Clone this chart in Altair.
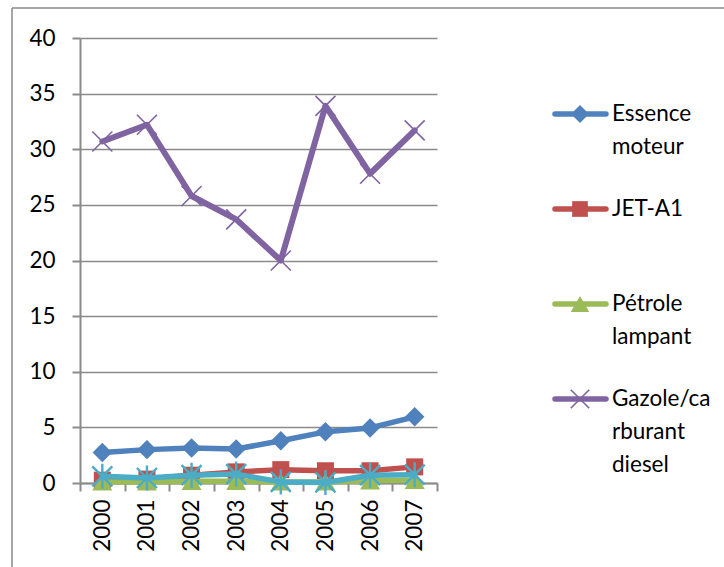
import altair as alt
import pandas as pd

# Annual values per fuel product
years = ["2000", "2001", "2002", "2003", "2004", "2005", "2006", "2007"]
essence = [2.75, 3.0, 3.15, 3.05, 3.8, 4.6, 4.95, 5.95]
jet_a1 = [0.25, 0.35, 0.7, 1.0, 1.2, 1.1, 1.1, 1.45]
petrole = [0.1, 0.1, 0.15, 0.15, 0.1, 0.1, 0.2, 0.25]
gazole = [30.7, 32.2, 25.8, 23.7, 20.0, 33.9, 27.8, 31.7]
fioul = [0.6, 0.45, 0.7, 0.8, 0.1, 0.05, 0.7, 0.75]

series = ["Essence moteur", "JET-A1", "Pétrole lampant",
          "Gazole/carburant diesel", "Fioul"]
values = [essence, jet_a1, petrole, gazole, fioul]
colors = ["#4F81BD", "#C0504D", "#9BBB59", "#8064A2", "#4BACC6"]

# legend text, wrapped the way it is shown (last series has no legend entry)
legend_lines = [["Essence", "moteur"], ["JET-A1"], ["Pétrole", "lampant"],
                ["Gazole/ca", "rburant", "diesel"]]

X_PATH = "M-1,-1L1,1M1,-1L-1,1"
STAR_PATH = "M-1,-1L1,1M1,-1L-1,1M0,-1.25L0,1.25"
shapes = ["diamond", "square", "triangle-up", X_PATH, STAR_PATH]
marker_size = [380, 290, 400, 400, 400]
filled = [True, True, True, False, False]

W, H = 357, 445
FONT = "Lato"
GRAY = "#8a8a8a"

rows = []
for name, vals in zip(series, values):
    for yr, v in zip(years, vals):
        rows.append({"serie": name, "annee": yr, "valeur": v})
df = pd.DataFrame(rows)

x_scale = alt.Scale(type="band", domain=years, paddingInner=0, paddingOuter=0)
y_scale = alt.Scale(domain=[0, 40], nice=False, zero=True)

x_axis = alt.Axis(title=None, labelAngle=-90, labelAlign="right",
                  labelBaseline="middle", labelFont=FONT, labelFontSize=22.5,
                  labelColor="black", labelPadding=8, tickBand="extent",
                  tickSize=8, tickColor=GRAY, tickWidth=2, domainColor=GRAY,
                  domainWidth=2, grid=False)
y_axis = alt.Axis(title=None, values=list(range(0, 41, 5)), labelFont=FONT,
                  labelFontSize=22.5, labelColor="black", labelPadding=17,
                  tickSize=8, tickColor=GRAY, tickWidth=2, domainColor=GRAY,
                  domainWidth=2, gridColor=GRAY, gridWidth=1.6, grid=True)

ex = alt.X("annee:N", scale=x_scale, axis=x_axis)
ey = alt.Y("valeur:Q", scale=y_scale, axis=y_axis)

layers = []
for i, name in enumerate(series):
    sub = alt.Chart(df).transform_filter(alt.datum.serie == name)
    line = sub.mark_line(color=colors[i], strokeWidth=6 if i == 3 else 5.5,
                         strokeJoin="round", strokeCap="round").encode(x=ex, y=ey)
    if filled[i]:
        pts = sub.mark_point(shape=shapes[i], size=marker_size[i], filled=True,
                             color=colors[i], opacity=1).encode(x=ex, y=ey)
    else:
        pts = sub.mark_point(shape=shapes[i], size=marker_size[i], filled=False,
                             color=colors[i], strokeWidth=1.6 if i == 3 else 2.4,
                             opacity=1).encode(x=ex, y=ey)
    layers += [line, pts]
main = alt.layer(*layers)

# Legend, drawn at the right of the plot
leg_rows, txt_rows = [], []
for slot, lines in enumerate(legend_lines):
    leg_rows.append({"slot": slot, "serie": series[slot]})
    for k, t in enumerate(lines):
        txt_rows.append({"slot": slot, "ligne": k, "texte": t})
leg_df = pd.DataFrame(leg_rows)
txt_df = pd.DataFrame(txt_rows)

ly = alt.Y("py:Q", scale=None, axis=None)
leg_base = alt.Chart(leg_df).transform_calculate(py="76 + datum.slot * 95")
leg_layers = []
for slot in range(len(legend_lines)):
    b = leg_base.transform_filter(alt.datum.slot == slot)
    leg_layers.append(b.mark_rule(color=colors[slot], strokeWidth=5.5,
                                  strokeCap="round").encode(
        x=alt.value(475), x2=alt.value(526), y=ly))
    if filled[slot]:
        leg_layers.append(b.mark_point(shape=shapes[slot],
                                       size=marker_size[slot] * 0.85,
                                       filled=True, color=colors[slot],
                                       opacity=1).encode(x=alt.value(500), y=ly))
    else:
        leg_layers.append(b.mark_point(shape=shapes[slot],
                                       size=marker_size[slot] * 0.85,
                                       filled=False, color=colors[slot],
                                       strokeWidth=1.6, opacity=1).encode(
            x=alt.value(500), y=ly))

leg_text = alt.Chart(txt_df).transform_calculate(
    py="76 + datum.slot * 95 + datum.ligne * 33"
).mark_text(align="left", baseline="middle", font=FONT, fontSize=22.5,
            color="black").encode(x=alt.value(532), y=ly, text="texte:N")
legend = alt.layer(*leg_layers, leg_text)

# outer frame (top and left edges)
frame_src = alt.Chart(pd.DataFrame({"k": [0]}))
frame_left = frame_src.mark_rule(color=GRAY, strokeWidth=1.5).encode(
    x=alt.value(-68), y=alt.value(-30), y2=alt.value(H + 90))
frame_top = frame_src.mark_rule(color=GRAY, strokeWidth=1.5).encode(
    x=alt.value(-68), x2=alt.value(W + 300), y=alt.value(-30))

chart = alt.layer(main, legend, frame_left, frame_top).resolve_scale(
    y="independent"
).properties(
    width=W, height=H,
    autosize=alt.AutoSizeParams(type="none"),
    padding={"left": 80, "top": 38, "right": 287, "bottom": 84},
).configure_view(stroke=None)

chart.save("out.html", embed_options={"renderer": "svg", "actions": False})
